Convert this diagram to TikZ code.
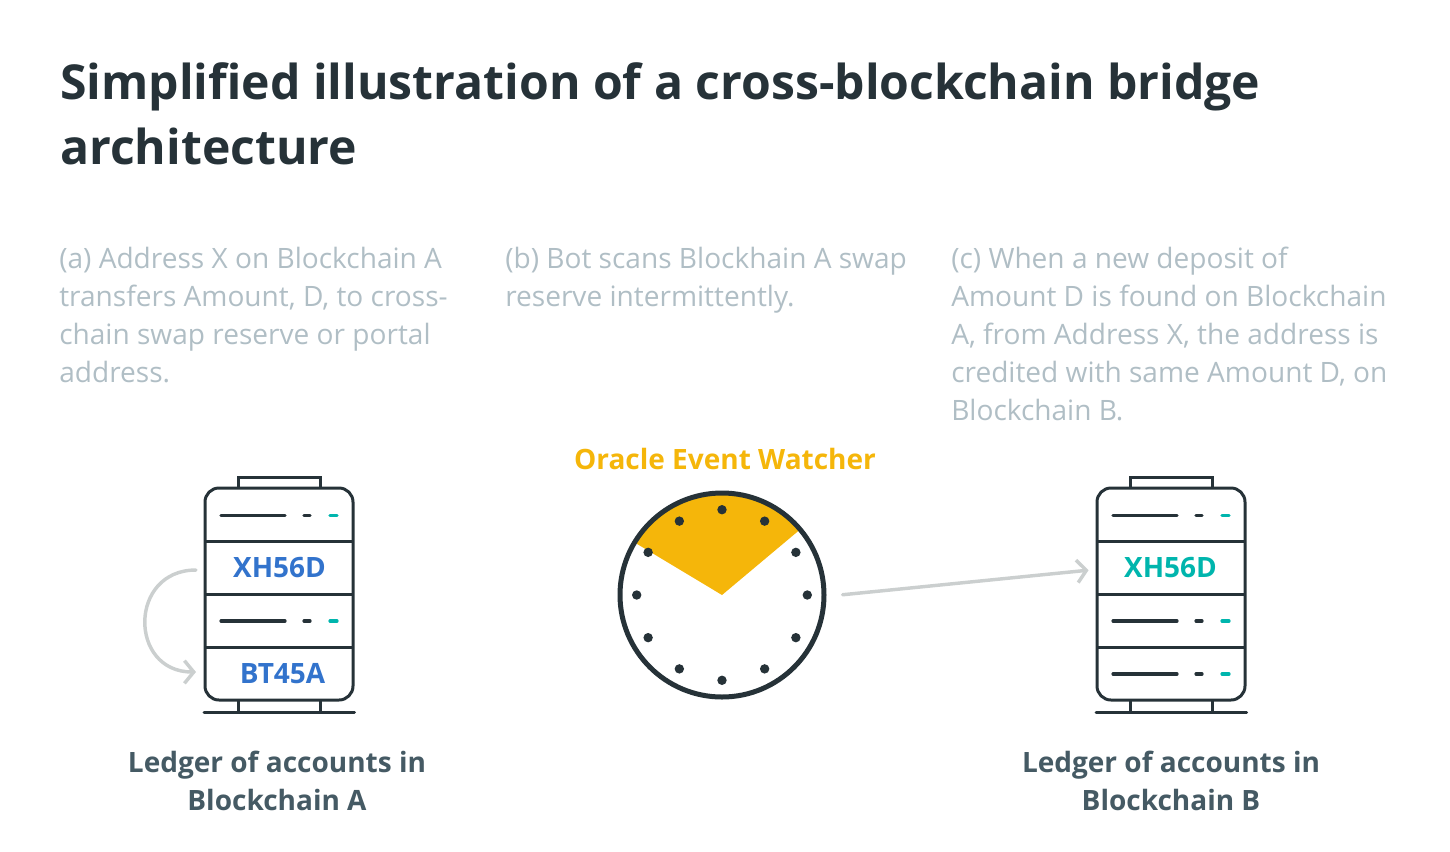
\documentclass[tikz,border=0pt]{standalone}
\usepackage{fontspec}
\setmainfont{Open Sans}
\usetikzlibrary{arrows.meta}
\definecolor{inkdark}{HTML}{263238}
\definecolor{notegray}{HTML}{B0BEC5}
\definecolor{labelslate}{HTML}{455A64}
\definecolor{rowblue}{HTML}{3273CC}
\definecolor{rowteal}{HTML}{00B5AD}
\definecolor{oracleamber}{HTML}{F5B60A}
\definecolor{swapgray}{HTML}{CBCFCF}
\tikzset{
    titletext/.style={anchor=north west, inner sep=0pt, align=left, text=inkdark, font=\fontsize{36.1}{48.75}\selectfont\bfseries},
    notetext/.style={anchor=north west, inner sep=0pt, align=left, text=notegray, font=\fontsize{21.05}{28.5}\selectfont},
    ledgerlabel/.style={inner sep=0pt, align=center, text=labelslate, font=\fontsize{21}{28.5}\selectfont\bfseries},
    rowtext/.style={inner sep=0pt, minimum width=112.5pt, minimum height=39.75pt, font=\fontsize{21}{25}\selectfont\bfseries},
    frame/.style={draw=inkdark, line width=2.25pt},
    slot/.style={line width=2.4pt, line cap=round},
    swaparrow/.style={draw=swapgray, line width=2.6pt, line cap=round, -{Straight Barb[length=7pt, width=17pt, line width=2.6pt]}},
}
% one row of a ledger: long line, short dash, teal dash
\newcommand{\slotline}[2]{
    \draw[slot, inkdark] (#1+221,#2) -- (#1+285,#2);
    \draw[slot, inkdark] (#1+304,#2) -- (#1+310,#2);
    \draw[slot, rowteal] (#1+330,#2) -- (#1+337,#2);
}
\begin{document}
\begin{tikzpicture}[x=0.75pt, y=-0.75pt]
    \useasboundingbox (0,0) rectangle (1450,851);

    \node[titletext] (heading) at (60,62) {Simplified illustration of a cross-blockchain bridge\\architecture};

    \node[notetext] (noteA) at (59,247) {(a) Address X on Blockchain A\\transfers Amount, D, to cross-\\chain swap reserve or portal\\address.};
    \node[notetext] (noteB) at (505,247) {(b) Bot scans Blockhain A swap\\reserve intermittently.};
    \node[notetext] (noteC) at (951,247) {(c) When a new deposit of\\Amount D is found on Blockchain\\A, from Address X, the address is\\credited with same Amount D, on\\Blockchain B.};

    % both ledgers, second one shifted right
    \foreach \ox in {0,892} {
        \draw[frame] (\ox+238,488) -- (\ox+238,477) -- (\ox+320,477) -- (\ox+320,488);
        \draw[frame] (\ox+238,700) -- (\ox+238,712);
        \draw[frame] (\ox+320,700) -- (\ox+320,712);
        \draw[frame, line cap=round] (\ox+204,712) -- (\ox+354.5,712);
        \draw[frame, rounded corners=10.5pt] (\ox+205,488) rectangle (\ox+353,700);
        \draw[frame] (\ox+205,541) -- (\ox+353,541);
        \draw[frame] (\ox+205,594) -- (\ox+353,594);
        \draw[frame] (\ox+205,647) -- (\ox+353,647);
        \slotline{\ox}{515.5}
        \slotline{\ox}{621}
    }
    \slotline{892}{674}

    \node[rowtext, text=rowblue] (rowXA) at (279.5,567.5) {XH56D};
    \node[rowtext, text=rowblue] (rowBA) at (282.5,673.5) {BT45A};
    \node[rowtext, text=rowteal] (rowXB) at (1170.5,567.5) {XH56D};

    \node[ledgerlabel] (ledgerA) at (277,781) {Ledger of accounts in\\Blockchain A};
    \node[ledgerlabel] (ledgerB) at (1171,781) {Ledger of accounts in\\Blockchain B};

    % oracle clock
    \node[inner sep=0pt, text=oracleamber, font=\fontsize{21}{25}\selectfont\bfseries] (oracle) at (725,459) {Oracle Event Watcher};
    \fill[oracleamber] (722,595) -- ++(-149:100) arc[start angle=-149, end angle=-40, radius=100] -- cycle;
    \foreach \a in {0,30,...,330} {
        \fill[inkdark] (722,595) ++(\a:85.3) circle (4.7);
    }
    \node[circle, draw=inkdark, line width=3.75pt, inner sep=0pt, outer sep=0pt, minimum size=153pt] (clock) at (722,595) {};

    \draw[swaparrow, shorten <=14pt, shorten >=5pt] ([yshift=-1.2pt]clock.east) -- ([yshift=-1.5pt]rowXB.west);
    \coordinate (swapOut) at (196,570);
    \coordinate (swapIn) at (196,672);
    \draw[swaparrow] (swapOut) to[out=180, in=180, looseness=1.7] (swapIn);
\end{tikzpicture}
\end{document}
